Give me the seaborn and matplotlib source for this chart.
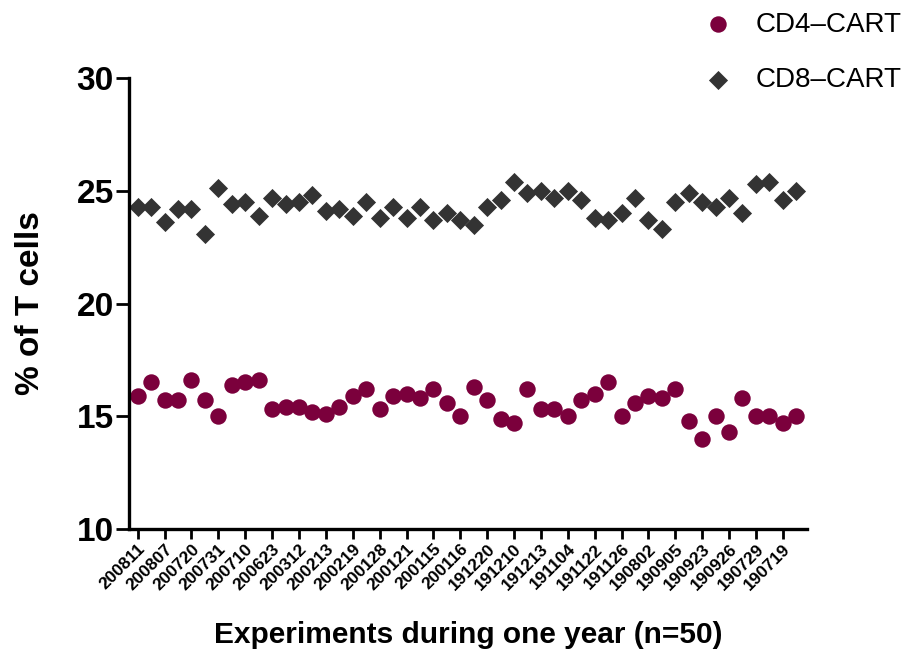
import matplotlib.pyplot as plt
import seaborn as sns
import numpy as np
import pandas as pd

# experiment dates (every other experiment is labelled)
dates = ['200811', '200807', '200720', '200731', '200710', '200623', '200312',
         '200213', '200219', '200128', '200121', '200115', '200116', '191220',
         '191210', '191213', '191104', '191122', '191126', '190802', '190905',
         '190923', '190926', '190729', '190719']

cd4 = [15.9, 16.5, 15.7, 15.7, 16.6, 15.7, 15.0, 16.4, 16.5, 16.6,
       15.3, 15.4, 15.4, 15.2, 15.1, 15.4, 15.9, 16.2, 15.3, 15.9,
       16.0, 15.8, 16.2, 15.6, 15.0, 16.3, 15.7, 14.9, 14.7, 16.2,
       15.3, 15.3, 15.0, 15.7, 16.0, 16.5, 15.0, 15.6, 15.9, 15.8,
       16.2, 14.8, 14.0, 15.0, 14.3, 15.8, 15.0, 15.0, 14.7, 15.0]

cd8 = [24.3, 24.3, 23.6, 24.2, 24.2, 23.1, 25.1, 24.4, 24.5, 23.9,
       24.7, 24.4, 24.5, 24.8, 24.1, 24.2, 23.9, 24.5, 23.8, 24.3,
       23.8, 24.3, 23.7, 24.0, 23.7, 23.5, 24.3, 24.6, 25.4, 24.9,
       25.0, 24.7, 25.0, 24.6, 23.8, 23.7, 24.0, 24.7, 23.7, 23.3,
       24.5, 24.9, 24.5, 24.3, 24.7, 24.0, 25.3, 25.4, 24.6, 25.0]

labels = ['CD4\u2013CART', 'CD8\u2013CART']
colors = ['#7b003c', '#333333']

sns.set_style('ticks')
plt.rcParams['font.family'] = ['Liberation Sans', 'DejaVu Sans']
plt.rcParams['text.color'] = 'black'
plt.rcParams['axes.labelcolor'] = 'black'
plt.rcParams['xtick.color'] = 'black'
plt.rcParams['ytick.color'] = 'black'

n = len(cd4)
df4 = pd.DataFrame({'Experiment': np.arange(n), 'Percent': cd4})
df8 = pd.DataFrame({'Experiment': np.arange(n), 'Percent': cd8})

fig = plt.figure(figsize=(9.12, 6.54), dpi=100)
ax = fig.add_axes([129 / 912, 1 - 529 / 654, (807 - 129) / 912, (529 - 78) / 654])

sns.scatterplot(data=df4, x='Experiment', y='Percent', color=colors[0], marker='o',
                s=140, linewidth=0, label=labels[0], ax=ax)
sns.scatterplot(data=df8, x='Experiment', y='Percent', color=colors[1], marker='D',
                s=95, linewidth=0, label=labels[1], ax=ax)

ax.set_ylim(10, 30)
ax.set_xlim(-0.65, 49.8)
ax.set_yticks([10, 15, 20, 25, 30])
ax.set_xticks(np.arange(0, n, 2))
ax.set_xticklabels(dates, rotation=45, ha='right', rotation_mode='anchor',
                   fontsize=12.5, fontweight='bold')
for t in ax.get_yticklabels():
    t.set_fontweight('bold')
    t.set_fontsize(24)

ax.tick_params(axis='y', width=2, length=9.5, pad=1.5)
ax.tick_params(axis='x', width=2, length=7, pad=2)
for side in ['left', 'bottom']:
    ax.spines[side].set_linewidth(2.4)
    ax.spines[side].set_color('black')
sns.despine(ax=ax)

ax.set_ylabel('% of T cells', fontsize=24, fontweight='bold', labelpad=22)
ax.set_xlabel('Experiments during one year (n=50)', fontsize=21.5, fontweight='bold',
              labelpad=20)

ax.legend(loc='upper left', bbox_to_anchor=(704 / 912, 0.982),
          bbox_transform=fig.transFigure, frameon=False, fontsize=20,
          handlelength=1.0, handletextpad=0.85, labelspacing=1.07,
          borderpad=0, borderaxespad=0)

fig.savefig('out.png', dpi=100)
